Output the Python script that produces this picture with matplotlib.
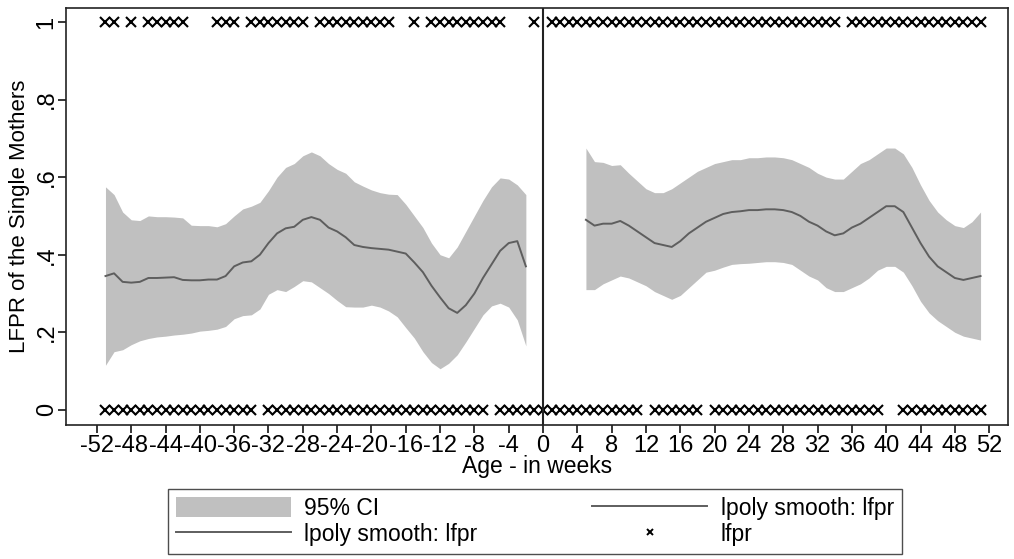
import matplotlib
matplotlib.use("Agg")
import matplotlib.pyplot as plt
from matplotlib.patches import Patch
from matplotlib.lines import Line2D
import numpy as np

plt.rcParams['font.family'] = ['Liberation Sans', 'DejaVu Sans']
plt.rcParams['axes.unicode_minus'] = False

# smoothed lfpr before birth (weeks -51 .. -2)
left_weeks = list(range(-51, -1))
left_fit = [0.345, 0.352, 0.330, 0.328, 0.330, 0.340, 0.340, 0.341, 0.342, 0.335,
            0.334, 0.334, 0.336, 0.336, 0.345, 0.370, 0.380, 0.383, 0.400, 0.430,
            0.455, 0.468, 0.472, 0.490, 0.497, 0.490, 0.470, 0.460, 0.445, 0.425,
            0.420, 0.417, 0.415, 0.413, 0.408, 0.403, 0.380, 0.355, 0.320, 0.290,
            0.262, 0.250, 0.270, 0.300, 0.340, 0.375, 0.410, 0.430, 0.435, 0.370]
left_hi = [0.575, 0.555, 0.510, 0.490, 0.488, 0.500, 0.498, 0.498, 0.497, 0.495,
           0.476, 0.475, 0.475, 0.472, 0.480, 0.500, 0.518, 0.525, 0.535, 0.565,
           0.600, 0.625, 0.635, 0.655, 0.665, 0.655, 0.635, 0.620, 0.610, 0.588,
           0.577, 0.567, 0.560, 0.556, 0.555, 0.530, 0.500, 0.470, 0.430, 0.400,
           0.392, 0.420, 0.460, 0.500, 0.540, 0.575, 0.598, 0.595, 0.580, 0.555]
left_lo = [0.115, 0.150, 0.155, 0.168, 0.178, 0.184, 0.188, 0.190, 0.193, 0.195,
           0.198, 0.203, 0.205, 0.208, 0.215, 0.235, 0.243, 0.245, 0.260, 0.298,
           0.310, 0.305, 0.318, 0.333, 0.330, 0.315, 0.300, 0.282, 0.266, 0.265,
           0.265, 0.270, 0.265, 0.255, 0.240, 0.212, 0.185, 0.150, 0.122, 0.106,
           0.120, 0.142, 0.175, 0.210, 0.245, 0.268, 0.275, 0.265, 0.232, 0.165]

# smoothed lfpr after birth (weeks 5 .. 51)
right_weeks = list(range(5, 52))
right_fit = [0.490, 0.475, 0.480, 0.480, 0.487, 0.475, 0.460, 0.445, 0.430, 0.425,
             0.420, 0.435, 0.455, 0.470, 0.485, 0.495, 0.505, 0.510, 0.512, 0.515,
             0.515, 0.517, 0.517, 0.515, 0.510, 0.500, 0.485, 0.475, 0.460, 0.450,
             0.455, 0.470, 0.480, 0.495, 0.510, 0.525, 0.525, 0.510, 0.470, 0.430,
             0.395, 0.370, 0.355, 0.340, 0.335, 0.340, 0.345]
right_hi = [0.675, 0.640, 0.638, 0.630, 0.632, 0.610, 0.590, 0.570, 0.560, 0.560,
            0.570, 0.585, 0.600, 0.615, 0.625, 0.635, 0.640, 0.645, 0.645, 0.650,
            0.650, 0.652, 0.652, 0.650, 0.645, 0.635, 0.625, 0.610, 0.600, 0.595,
            0.595, 0.615, 0.635, 0.645, 0.660, 0.675, 0.675, 0.660, 0.625, 0.580,
            0.540, 0.510, 0.490, 0.475, 0.470, 0.485, 0.510]
right_lo = [0.310, 0.310, 0.325, 0.335, 0.345, 0.340, 0.330, 0.320, 0.305, 0.295,
            0.285, 0.295, 0.315, 0.335, 0.355, 0.360, 0.368, 0.375, 0.377, 0.378,
            0.380, 0.382, 0.382, 0.380, 0.375, 0.360, 0.345, 0.335, 0.315, 0.305,
            0.305, 0.315, 0.325, 0.340, 0.360, 0.370, 0.370, 0.355, 0.320, 0.280,
            0.250, 0.230, 0.215, 0.200, 0.190, 0.185, 0.180]

# raw lfpr observations, runs of weeks (first, last)
ones_runs = [(-51, -50), (-48, -48), (-46, -42), (-38, -36), (-34, -28), (-26, -18),
             (-15, -15), (-13, -5), (-1, -1), (1, 34), (36, 51)]
zeros_runs = [(-51, -34), (-32, -7), (-5, 5), (6, 11), (13, 18), (20, 39), (42, 51)]

x_ticks = list(range(-52, 53, 4))
y_ticks = [0, 0.2, 0.4, 0.6, 0.8, 1]
y_labels = ['0', '.2', '.4', '.6', '.8', '1']


def expand(runs):
    out = []
    for a, b in runs:
        out += list(range(a, b + 1))
    return out


fig = plt.figure(figsize=(10.14, 5.59), dpi=100)
ax = fig.add_axes([0.0651, 0.2397, 0.9290, 0.7460])

ci_col = '#c0c0c0'
ln_col = '#5e5e5e'

ax.fill_between(left_weeks, left_lo, left_hi, color=ci_col, lw=0, zorder=1)
ax.fill_between(right_weeks, right_lo, right_hi, color=ci_col, lw=0, zorder=1)
ax.plot(left_weeks, left_fit, color=ln_col, lw=1.4, zorder=2)
ax.plot(right_weeks, right_fit, color=ln_col, lw=1.4, zorder=2)

xs1 = expand(ones_runs)
xs0 = expand(zeros_runs)
ax.plot(xs1, [1] * len(xs1), ls='none', marker='x', ms=6.8, mew=1.5, color='black', zorder=3)
ax.plot(xs0, [0] * len(xs0), ls='none', marker='x', ms=6.8, mew=1.5, color='black', zorder=3)

ax.axvline(0, color='#222222', lw=1.5, zorder=4)

ax.set_xlim(-55.6, 54.2)
ax.set_ylim(-0.039, 1.036)
ax.set_xticks(x_ticks)
ax.set_xticklabels([str(t) for t in x_ticks])
ax.set_yticks(y_ticks)
ax.set_yticklabels(y_labels, rotation=90, va='center')
ax.tick_params(direction='out', length=6, width=1.1, labelsize=17, colors='black')
ax.tick_params(axis='x', pad=1)
ax.tick_params(axis='y', pad=0)
for s in ax.spines.values():
    s.set_color('#222222')
    s.set_linewidth(1.2)

ax.set_xlabel('Age - in weeks', fontsize=16.5, labelpad=-1)
ax.set_ylabel('LFPR of the Single Mothers', fontsize=16, labelpad=4)

handles = [Patch(facecolor=ci_col, edgecolor='none'),
           Line2D([], [], color=ln_col, lw=1.4),
           Line2D([], [], color=ln_col, lw=1.4),
           Line2D([], [], ls='none', marker='x', ms=5, mew=1.4, color='black')]
labels = ['95% CI', 'lpoly smooth: lfpr', 'lpoly smooth: lfpr', 'lfpr']
leg = fig.legend(handles, labels, ncol=2, loc='center', bbox_to_anchor=(535 / 1014, 0.067),
                 fontsize=16.5, frameon=True, fancybox=False, handlelength=5,
                 handletextpad=0.6, columnspacing=5.0, borderpad=0.35, labelspacing=0.15,
                 handleheight=1.0)
leg.get_frame().set_edgecolor('#222222')
leg.get_frame().set_linewidth(1.0)

fig.savefig('out.png', dpi=100)
